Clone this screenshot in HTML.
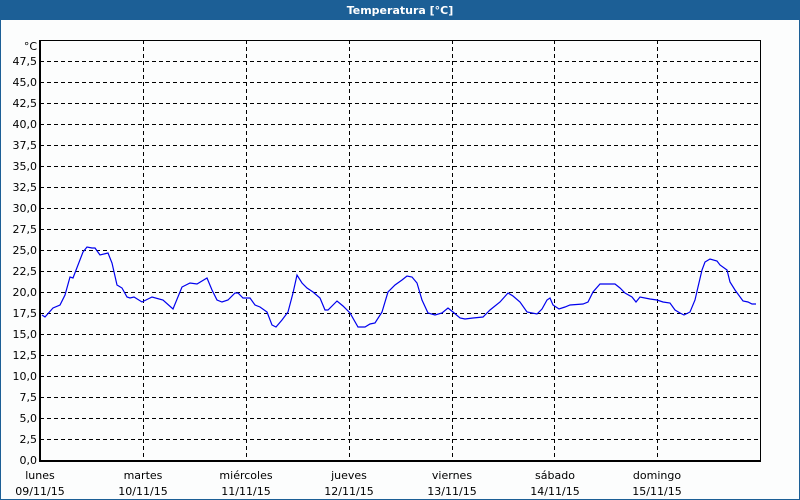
<!DOCTYPE html>
<html><head><meta charset="utf-8"><style>
html,body{margin:0;padding:0;background:#fff;}
body{width:800px;height:500px;overflow:hidden;position:relative;font-family:Tahoma,"DejaVu Sans","Liberation Sans",sans-serif;}
</style></head><body>
<svg width="800" height="500" xmlns="http://www.w3.org/2000/svg" style="position:absolute;left:0;top:0">
<rect x="0" y="0" width="800" height="500" fill="#1c5f96"/>
<rect x="1" y="20" width="798" height="479" fill="#fcfdfd"/>
<text x="400" y="14" fill="#fff" font-size="11" font-weight="bold" text-anchor="middle" font-family="DejaVu Sans, Liberation Sans, sans-serif">Temperatura [°C]</text>
<g stroke="#000" stroke-width="1" stroke-dasharray="4,3" shape-rendering="crispEdges">
<line x1="40" x2="760" y1="61.5" y2="61.5"/><line x1="40" x2="760" y1="82.5" y2="82.5"/><line x1="40" x2="760" y1="103.5" y2="103.5"/><line x1="40" x2="760" y1="124.5" y2="124.5"/><line x1="40" x2="760" y1="145.5" y2="145.5"/><line x1="40" x2="760" y1="166.5" y2="166.5"/><line x1="40" x2="760" y1="187.5" y2="187.5"/><line x1="40" x2="760" y1="208.5" y2="208.5"/><line x1="40" x2="760" y1="229.5" y2="229.5"/><line x1="40" x2="760" y1="250.5" y2="250.5"/><line x1="40" x2="760" y1="271.5" y2="271.5"/><line x1="40" x2="760" y1="292.5" y2="292.5"/><line x1="40" x2="760" y1="313.5" y2="313.5"/><line x1="40" x2="760" y1="334.5" y2="334.5"/><line x1="40" x2="760" y1="355.5" y2="355.5"/><line x1="40" x2="760" y1="376.5" y2="376.5"/><line x1="40" x2="760" y1="397.5" y2="397.5"/><line x1="40" x2="760" y1="418.5" y2="418.5"/><line x1="40" x2="760" y1="439.5" y2="439.5"/>
<line x1="143.5" x2="143.5" y1="40" y2="460"/><line x1="246.5" x2="246.5" y1="40" y2="460"/><line x1="349.5" x2="349.5" y1="40" y2="460"/><line x1="452.5" x2="452.5" y1="40" y2="460"/><line x1="554.5" x2="554.5" y1="40" y2="460"/><line x1="657.5" x2="657.5" y1="40" y2="460"/>
</g>
<g stroke="#000" stroke-width="2" fill="none" shape-rendering="crispEdges">
<line x1="40" y1="40" x2="40" y2="461"/><line x1="39" y1="461" x2="761" y2="461"/><line x1="760.5" y1="40" x2="760.5" y2="461" stroke-width="1"/><line x1="40" y1="40.5" x2="760" y2="40.5" stroke-width="1"/>
</g>
<polyline fill="none" stroke="#0000ee" stroke-width="1.2" points="42,315 45,317 53,308 60,305 65,295 70,277 73,278 83,252 87,247 92,248 95,248 100,255 108,253 112,263 117,285 122,288 127,297 130,298 134,297 142,302 152,297 163,300 173,309 182,287 190,283 197,284 207,278 212,290 217,300 222,302 228,300 235,293 238,293 243,298 250,298 255,305 260,307 267,312 272,325 276,327 282,320 288,312 293,293 297,275 302,283 307,288 313,292 320,298 325,310 328,310 337,301 343,306 350,313 358,327 365,327 370,324 375,323 382,312 388,292 395,285 402,280 407,276 412,277 417,283 422,300 428,313 435,315 442,313 448,308 453,312 460,318 465,319 473,318 483,317 490,310 500,302 508,293 513,296 520,302 527,312 537,314 542,309 547,300 550,298 553,305 559,309 565,307 570,305 583,304 588,302 593,292 600,284 615,284 620,288 625,293 632,297 636,302 640,297 650,299 657,300 663,302 670,303 675,310 680,313 684,315 690,312 695,300 698,287 702,270 705,262 710,259 717,261 720,265 727,270 730,282 735,290 743,301 748,302 752,304 756,304"/>
<g font-size="11" fill="#000" text-anchor="end" font-family="DejaVu Sans, Liberation Sans, sans-serif">
<text x="37" y="50">°C</text>
<text x="37" y="65">47,5</text><text x="37" y="86">45,0</text><text x="37" y="107">42,5</text><text x="37" y="128">40,0</text><text x="37" y="149">37,5</text><text x="37" y="170">35,0</text><text x="37" y="191">32,5</text><text x="37" y="212">30,0</text><text x="37" y="233">27,5</text><text x="37" y="254">25,0</text><text x="37" y="275">22,5</text><text x="37" y="296">20,0</text><text x="37" y="317">17,5</text><text x="37" y="338">15,0</text><text x="37" y="359">12,5</text><text x="37" y="380">10,0</text><text x="37" y="401">7,5</text><text x="37" y="422">5,0</text><text x="37" y="443">2,5</text><text x="37" y="464">0,0</text>
</g>
<g font-size="11" fill="#000" text-anchor="middle" font-family="DejaVu Sans, Liberation Sans, sans-serif">
<text x="40" y="479">lunes</text><text x="40" y="495">09/11/15</text>
<text x="143" y="479">martes</text><text x="143" y="495">10/11/15</text>
<text x="246" y="479">miércoles</text><text x="246" y="495">11/11/15</text>
<text x="349" y="479">jueves</text><text x="349" y="495">12/11/15</text>
<text x="452" y="479">viernes</text><text x="452" y="495">13/11/15</text>
<text x="555" y="479">sábado</text><text x="555" y="495">14/11/15</text>
<text x="657" y="479">domingo</text><text x="657" y="495">15/11/15</text>
</g>
</svg>
</body></html>
